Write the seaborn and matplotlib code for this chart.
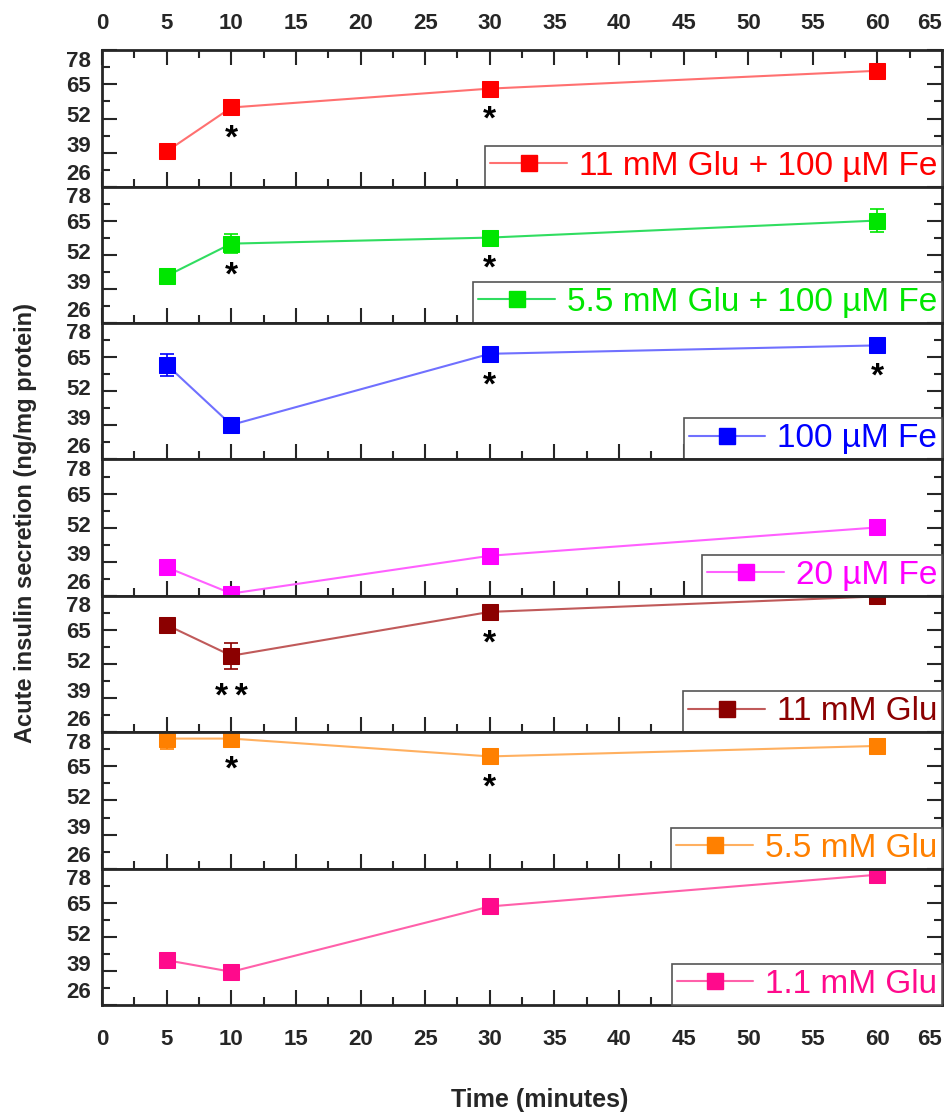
import numpy as np
import pandas as pd
import matplotlib
matplotlib.use('Agg')
import matplotlib.pyplot as plt
import matplotlib.transforms as mtransforms
from matplotlib.lines import Line2D
from matplotlib.ticker import MultipleLocator
import seaborn as sns

# time points (minutes)
time_min = [5, 10, 30, 60]

labels = ['11 mM Glu + 100 µM Fe', '5.5 mM Glu + 100 µM Fe', '100 µM Fe',
          '20 µM Fe', '11 mM Glu', '5.5 mM Glu', '1.1 mM Glu']

# acute insulin secretion (ng/mg protein), one list per condition
glu11_fe100 = [39.5, 56.2, 63.4, 70.2]
glu55_fe100 = [44.0, 56.3, 58.6, 65.1]
fe100 = [62.1, 39.2, 66.3, 69.5]
fe20 = [36.9, 26.9, 41.3, 52.1]
glu11 = [66.9, 55.2, 71.9, 77.8]
glu55 = [75.6, 75.6, 68.8, 72.8]
glu1_1 = [43.1, 38.7, 63.6, 75.7]

# error bars
err_glu11_fe100 = [0.8, 0.8, 0.8, 0.8]
err_glu55_fe100 = [0.8, 3.5, 0.8, 4.5]
err_fe100 = [4.3, 0.8, 0.8, 0.8]
err_fe20 = [0.5, 0.5, 0.5, 0.5]
err_glu11 = [0.8, 5.0, 0.8, 0.8]
err_glu55 = [4.0, 0.8, 0.8, 0.8]
err_glu1_1 = [0.8, 0.8, 0.8, 0.8]

# significance marks under each point
stars = [['', '*', '*', ''],
         ['', '*', '*', ''],
         ['', '', '*', '*'],
         ['', '', '', ''],
         ['', '**', '*', ''],
         ['', '*', '*', ''],
         ['', '', '', '']]

x_ticks = list(range(0, 66, 5))
y_ticks = [26, 39, 52, 65, 78]

series = [glu11_fe100, glu55_fe100, fe100, fe20, glu11, glu55, glu1_1]
errors = [err_glu11_fe100, err_glu55_fe100, err_fe100, err_fe20,
          err_glu11, err_glu55, err_glu1_1]

marker_colors = ['#FF0000', '#00E600', '#0000FF', '#FF00FF', '#8B0000', '#FF8000', '#FF0A8C']
line_colors = ['#FF7070', '#30DD60', '#7070FF', '#FF60FF', '#C05A5A', '#FFB060', '#FF60AA']

sns.set_style('ticks')
plt.rcParams['font.family'] = ['Liberation Sans', 'DejaVu Sans']
plt.rcParams['axes.linewidth'] = 2

fig, axes = plt.subplots(7, 1, figsize=(9.46, 11.18), dpi=100)
fig.subplots_adjust(left=0.108, right=0.9958, top=0.955, bottom=0.101, hspace=0)

# small vertical nudges (points) for the y tick labels, like the original
ylab_shift = [10.5, 6, 3, 0, -6]

for i, ax in enumerate(axes):
    df = pd.DataFrame({'time': time_min, 'value': series[i]})
    mc = marker_colors[i]
    ax.errorbar(time_min, series[i], yerr=errors[i], fmt='none', ecolor=mc,
                elinewidth=1.2, capsize=5, capthick=1.2)
    sns.lineplot(data=df, x='time', y='value', ax=ax, color=line_colors[i], lw=1.5,
                 marker='s', markersize=12, markerfacecolor=mc, markeredgecolor=mc,
                 errorbar=None)

    for t, v, s in zip(time_min, series[i], stars[i]):
        if s:
            off = -30 if s == '**' else -23
            ax.annotate(s.replace('**', '*\u2009*'), xy=(t, v), xytext=(0, off),
                        textcoords='offset points', ha='center', va='center',
                        fontsize=24, fontweight='bold', color='black')

    ax.set_xlim(0, 65)
    ax.set_ylim(26, 78)
    ax.set_xticks(x_ticks)
    ax.xaxis.set_minor_locator(MultipleLocator(2.5))
    ax.set_yticks(y_ticks)
    ax.yaxis.set_minor_locator(MultipleLocator(6.5))
    ax.set_xlabel('')
    ax.set_ylabel('')

    ax.tick_params(which='both', direction='in', left=True, right=True,
                   top=(i == 0), bottom=True, labelleft=True, labelright=False,
                   labeltop=(i == 0), labelbottom=(i == 6), labelsize=16, width=1.5)
    ax.tick_params(which='major', length=11)
    ax.tick_params(which='minor', length=5.5)
    ax.tick_params(axis='y', pad=8)
    ax.tick_params(axis='x', pad=(12 if i == 0 else 17))

    for tk in ax.xaxis.get_major_ticks() + ax.yaxis.get_major_ticks():
        tk.label1.set_fontweight('bold')
        tk.label2.set_fontweight('bold')
    for tk, dy in zip(ax.yaxis.get_major_ticks(), ylab_shift):
        tk.label1.set_transform(tk.label1.get_transform() +
                                mtransforms.ScaledTranslation(0, dy / 72, fig.dpi_scale_trans))
    xt = ax.xaxis.get_major_ticks()[-1]
    xt.label1.set_ha('right')
    xt.label2.set_ha('right')

    handle = Line2D([], [], color=line_colors[i], lw=1.5, marker='s', markersize=12,
                    markerfacecolor=mc, markeredgecolor=mc)
    leg = ax.legend([handle], [labels[i]], loc='lower right', bbox_to_anchor=(1, 0),
                    borderaxespad=0, fontsize=24, frameon=True, fancybox=False,
                    edgecolor='#555555', framealpha=1, handlelength=2.3,
                    handletextpad=0.35, borderpad=0.15, labelcolor=mc)
    leg.get_frame().set_linewidth(1.2)

fig.text(0.027, 0.532, 'Acute insulin secretion (ng/mg protein)', rotation=90,
         ha='center', va='center', fontsize=17, fontweight='bold')
fig.text(0.571, 0.016, 'Time (minutes)', ha='center', va='center',
         fontsize=18, fontweight='bold')

fig.savefig('out.png', dpi=100)
